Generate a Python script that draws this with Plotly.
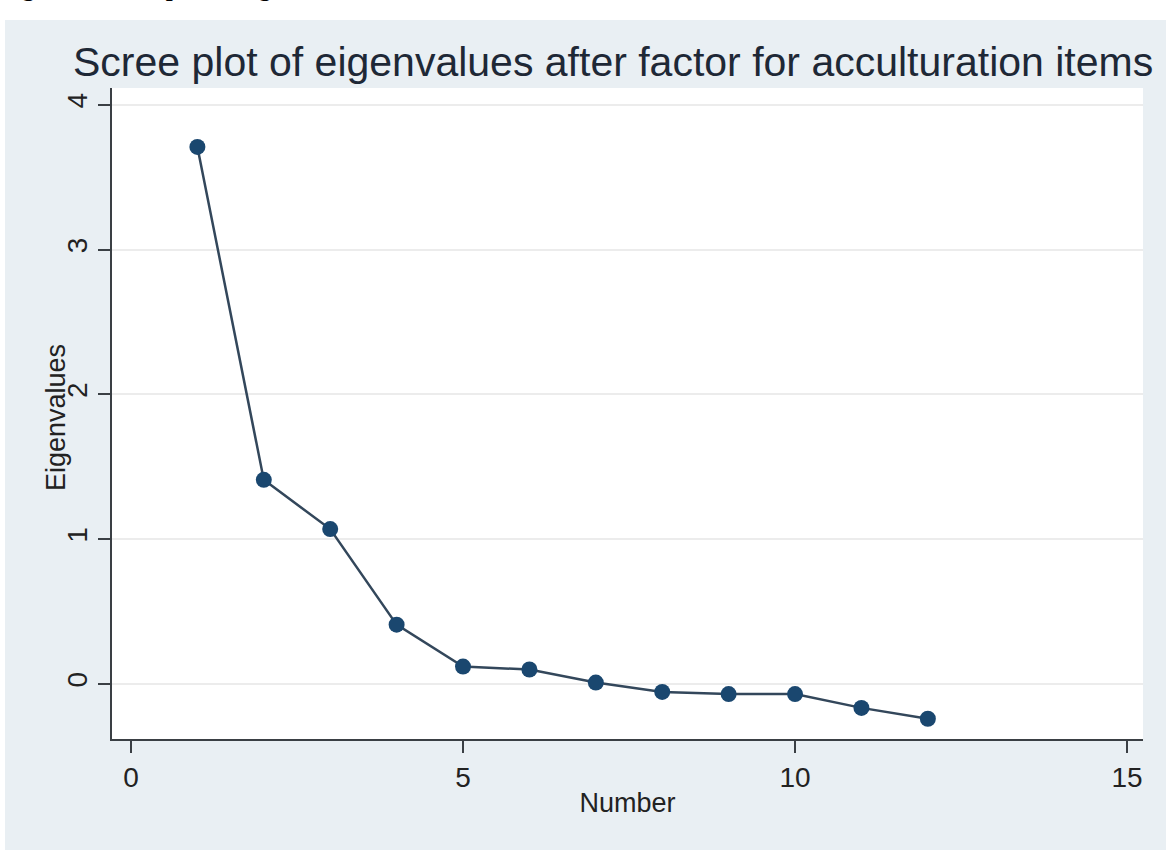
import plotly.graph_objects as go

# Data
factor_number = [1, 2, 3, 4, 5, 6, 7, 8, 9, 10, 11, 12]
eigenvalues = [3.71, 1.41, 1.07, 0.41, 0.12, 0.10, 0.01, -0.055, -0.07, -0.07, -0.165, -0.24]
x_ticks = [0, 5, 10, 15]
y_ticks = [0, 1, 2, 3, 4]

title_text = "Scree plot of eigenvalues after factor for acculturation items"
x_title = "Number"
y_title = "Eigenvalues"
caption_text = "Figure 2. Scree plot of eigenvalues"

W, H = 1166, 850
L, R, T, B = 112, 1143, 88, 739  # plot area in px


def px_x(p):
    return (p - L) / (R - L)


def px_y(q):
    return (B - q) / (B - T)


BG = "#e9eff3"
NAVY = "#1a476f"
AXIS = "#3a3f44"
TEXT = "#1e2836"

fig = go.Figure()
fig.add_trace(go.Scatter(
    x=factor_number, y=eigenvalues, mode="lines+markers",
    line=dict(color="#33475b", width=2.5),
    marker=dict(color=NAVY, size=16, line=dict(width=0)),
    showlegend=False, cliponaxis=False,
))

fig.update_layout(
    width=W, height=H,
    margin=dict(l=L, r=W - R, t=T, b=H - B, pad=0),
    paper_bgcolor=BG, plot_bgcolor="white",
    font=dict(family="Liberation Sans, Arial, sans-serif", color=TEXT),
    showlegend=False,
)

fig.update_xaxes(
    range=[-0.286, 15.24], tickvals=x_ticks, ticktext=[str(v) for v in x_ticks],
    showgrid=False, zeroline=False,
    showline=True, linecolor=AXIS, linewidth=2,
    ticks="outside", ticklen=12, tickwidth=1.5, tickcolor=AXIS,
    tickfont=dict(size=28, color="#222"),
    title=dict(text=x_title, font=dict(size=27, color="#222"), standoff=2),
)
fig.update_yaxes(
    range=[-0.38, 4.117], tickvals=y_ticks, ticktext=[str(v) for v in y_ticks],
    showgrid=True, gridcolor="#ececec", gridwidth=1.5, zeroline=False,
    showline=True, linecolor=AXIS, linewidth=2,
    ticks="outside", ticklen=12, tickwidth=1.5, tickcolor=AXIS,
    tickangle=-90,
    tickfont=dict(size=28, color="#222"),
)

# white outer margins of the original figure page
fig.add_shape(type="rect", xref="paper", yref="paper",
              x0=-1, x1=2, y0=px_y(20), y1=2,
              fillcolor="white", line=dict(width=0), layer="above")
fig.add_shape(type="rect", xref="paper", yref="paper",
              x0=-1, x1=px_x(5), y0=-1, y1=2,
              fillcolor="white", line=dict(width=0), layer="above")

fig.add_annotation(
    text=title_text, xref="paper", yref="paper",
    x=px_x(613), y=px_y(62), xanchor="center", yanchor="middle",
    showarrow=False, font=dict(size=41, color=TEXT),
)
fig.add_annotation(
    text=y_title, xref="paper", yref="paper", textangle=-90,
    x=px_x(56), y=px_y(418), xanchor="center", yanchor="middle",
    showarrow=False, font=dict(size=27, color="#222"),
)
fig.add_annotation(
    text="<b>" + caption_text + "</b>", xref="paper", yref="paper",
    x=px_x(-2), y=px_y(-13), xanchor="left", yanchor="middle",
    showarrow=False, font=dict(size=25, color="black", family="Liberation Serif, Times New Roman, serif"),
)

fig.write_html("out.html")
